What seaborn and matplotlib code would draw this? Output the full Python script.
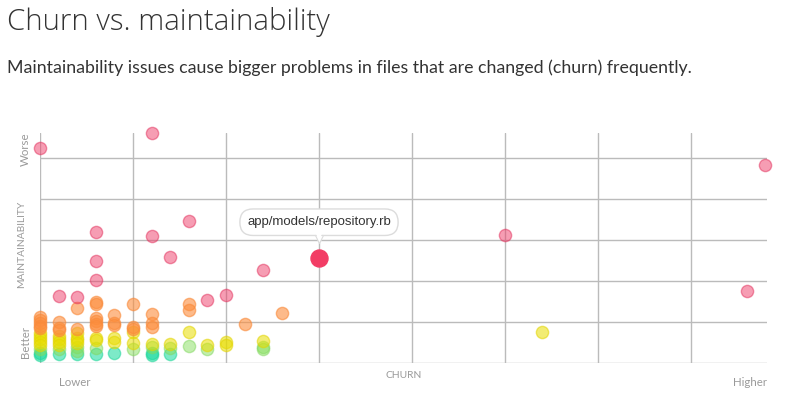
import numpy as np
import pandas as pd
import matplotlib
matplotlib.use("Agg")
import matplotlib.pyplot as plt
import seaborn as sns

# ---- data ----
churn = [0.0]*14 + [0.2]*10 + [0.4]*10 + [0.6]*13 + [0.8]*6 + [1.0]*6 + [1.2]*9 \
    + [1.4]*4 + [1.6]*5 + [1.8]*3 + [2.0]*3 + [2.2] + [2.4]*4 + [2.6] + [5.0] + [5.4] + [7.6] + [7.8]
maintainability = [
    5.24, 1.13, 1.06, 0.98, 0.91, 0.85, 0.72, 0.65, 0.58, 0.51, 0.44, 0.33, 0.25, 0.20,
    1.63, 0.99, 0.86, 0.81, 0.66, 0.59, 0.52, 0.45, 0.33, 0.21,
    1.60, 1.33, 0.83, 0.72, 0.62, 0.55, 0.48, 0.38, 0.30, 0.21,
    3.20, 2.49, 2.02, 1.50, 1.44, 1.10, 1.02, 0.95, 0.90, 0.62, 0.55, 0.36, 0.22,
    1.17, 0.97, 0.93, 0.60, 0.52, 0.24,
    1.45, 0.88, 0.84, 0.76, 0.50, 0.35,
    5.62, 3.10, 1.19, 0.97, 0.89, 0.47, 0.38, 0.24, 0.20,
    2.59, 0.46, 0.36, 0.21,
    3.46, 1.43, 1.29, 0.75, 0.42,
    1.54, 0.44, 0.33,
    1.67, 0.52, 0.45,
    0.94,
    2.26, 0.54, 0.40, 0.35,
    1.21,
    3.11,
    0.75,
    1.75,
    4.82,
]
highlight_file = "app/models/repository.rb"
highlight_churn = [3.0]
highlight_maint = [2.57]

title = "Churn vs. maintainability"
subtitle = "Maintainability issues cause bigger problems in files that are changed (churn) frequently."

# ---- styling ----
W, H = 786, 396
fig = plt.figure(figsize=(W/100, H/100), dpi=100)
sns.set_style("white")
plt.rcParams['font.family'] = ['Lato', 'DejaVu Sans']

ax = fig.add_axes([40/W, 33/H, (767-40)/W, 230/H])

df = pd.DataFrame({"churn": churn, "maint": maintainability})
grades = ["A", "B", "C", "D", "F"]
df["grade"] = pd.cut(df["maint"], [-1, 0.27, 0.43, 0.80, 1.53, 99], labels=grades)
fills = {"A": "#12d99c", "B": "#86df5e", "C": "#e8dd00", "D": "#fd8d3c", "F": "#ef3d69"}
edges = {"A": "#22d69a", "B": "#82d860", "C": "#e2d400", "D": "#f98a3a", "F": "#e2305c"}
alphas = {"A": 0.55, "B": 0.5, "C": 0.55, "D": 0.6, "F": 0.5}

for g in grades:
    sub = df[df["grade"] == g]
    sns.scatterplot(data=sub, x="churn", y="maint", ax=ax, s=78,
                    color=fills[g], edgecolor=edges[g], linewidth=1.0,
                    alpha=alphas[g], clip_on=False, zorder=3, legend=False)

sns.scatterplot(x=highlight_churn, y=highlight_maint, ax=ax, s=150, color="#f23d65",
                edgecolor="#f23d65", linewidth=1, zorder=5, clip_on=False, legend=False)

ax.set_xlim(0, 727/93)
ax.set_ylim(0, 230/41)
ax.set_xticks(np.arange(0, 8))
ax.set_yticks(np.arange(0, 6))
ax.tick_params(length=0, labelbottom=False, labelleft=False)
ax.set_xlabel("")
ax.set_ylabel("")
for s in ax.spines.values():
    s.set_visible(False)
for yv in range(0, 6):
    ax.axhline(yv, color="#bbbbbb", lw=1, zorder=1)
for xv in range(0, 8):
    ax.axvline(xv, color="#bbbbbb", lw=1, zorder=1)

# tooltip
ax.annotate(highlight_file, xy=(highlight_churn[0], highlight_maint[0]),
            xytext=(0, 25.5), textcoords="offset points", ha="center", va="center",
            fontsize=9.5, color="#333333", family=["Liberation Sans", "DejaVu Sans"],
            bbox=dict(boxstyle="round,pad=0.55,rounding_size=1.0", fc="white",
                      ec="#dcdcdc", lw=1), zorder=6)
ax.plot([highlight_churn[0]], [(363-238.5)/41], marker="v", ms=6, mfc="white",
        mec="#dcdcdc", mew=0.8, zorder=7, clip_on=False)
ax.plot([highlight_churn[0]], [(363-236.5)/41], marker="v", ms=5, mfc="white",
        mec="white", mew=0, zorder=8, clip_on=False)

grey = "#9a9a9a"
fig.text(75/W, 1-382/H, "Lower", ha="center", va="center", fontsize=8.3, color=grey)
fig.text(767/W, 1-382/H, "Higher", ha="right", va="center", fontsize=8.3, color=grey)
fig.text(403.5/W, 1-375/H, "CHURN", ha="center", va="center", fontsize=7.4, color=grey)
fig.text(25/W, 1-149.5/H, "Worse", ha="center", va="center", rotation=90, fontsize=8.3, color=grey)
fig.text(22/W, 1-244/H, "MAINTAINABILITY", ha="center", va="center", rotation=90, fontsize=7.4, color=grey)
fig.text(25/W, 1-341.5/H, "Better", ha="center", va="center", rotation=90, fontsize=8.3, color=grey)

fig.text(7/W, 1-22/H, title, ha="left", va="center", fontsize=21.2, color="#333333",
         family=["Open Sans", "DejaVu Sans"], fontweight="light")
fig.text(7/W, 1-68/H, subtitle, ha="left", va="center", fontsize=12.8, color="#333333")

fig.savefig("out.png", dpi=100)
